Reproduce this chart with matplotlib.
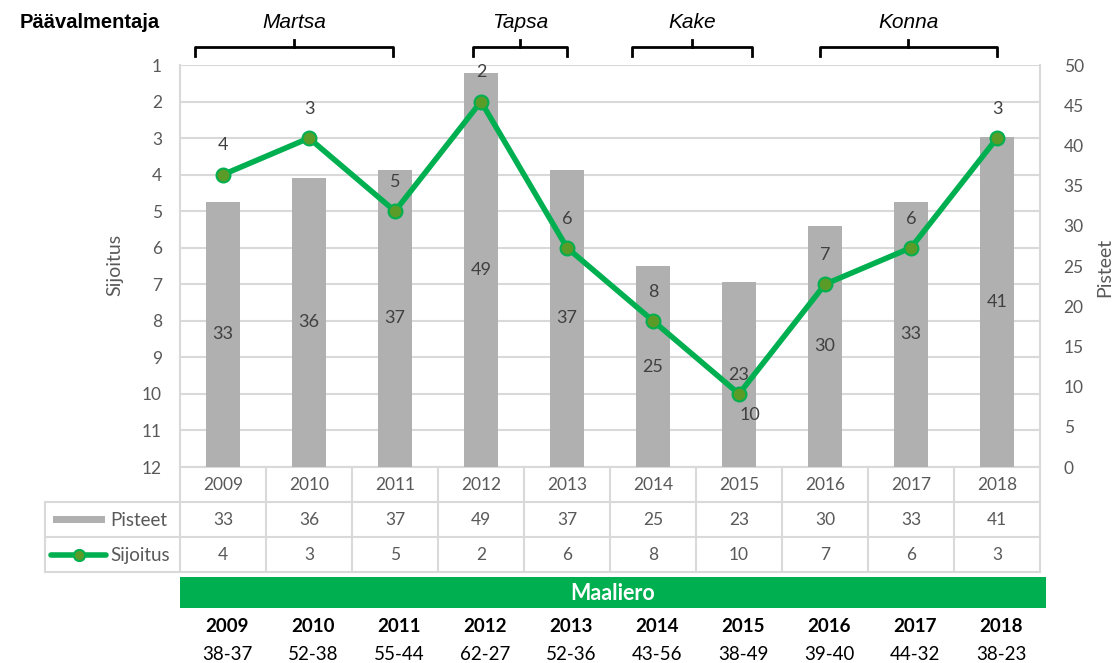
import matplotlib.pyplot as plt
from matplotlib.patches import Rectangle
from matplotlib.lines import Line2D
from matplotlib.transforms import blended_transform_factory

years = ["2009", "2010", "2011", "2012", "2013", "2014", "2015", "2016", "2017", "2018"]
pisteet = [33, 36, 37, 49, 37, 25, 23, 30, 33, 41]
sijoitus = [4, 3, 5, 2, 6, 8, 10, 7, 6, 3]
maaliero = ["38-37", "52-38", "55-44", "62-27", "52-36", "43-56", "38-49", "39-40", "44-32", "38-23"]
coaches = ["Martsa", "Tapsa", "Kake", "Konna"]
# bracket spans in category units (approx. from picture)
coach_spans = [(-0.33, 1.98), (2.91, 4.0), (4.76, 6.15), (6.94, 9.0)]

W, H = 1112, 663
GREEN = "#00B050"
MARK = "#5B9B28"
BAR = "#B0B0B0"
GRID = "#D9D9D9"
TXT = "#595959"
FONT = "Lato"

def fy(y):
    return 1 - y / H

fig = plt.figure(figsize=(W / 100, H / 100), dpi=100)
ax = fig.add_axes([180 / W, fy(467), 860 / W, (467 - 65) / H])
x = list(range(len(years)))

# rank axis (left) with grid
ax.set_xlim(-0.5, 9.5)
ax.set_ylim(12, 1)
ax.set_yticks(range(1, 13))
ax.set_xticks([])
ax.yaxis.grid(True, color=GRID, lw=1.5)
ax.set_axisbelow(True)
ax.tick_params(axis="y", length=0, pad=13, labelcolor=TXT, labelsize=12.5)
for lab in ax.get_yticklabels():
    lab.set_family(FONT)
ax.spines["top"].set_visible(False)
for s in ["left", "right", "bottom"]:
    ax.spines[s].set_color(GRID)
    ax.spines[s].set_linewidth(1.5)

# points axis (right) with bars
axb = ax.twinx()
axb.set_ylim(0, 50)
axb.set_yticks(range(0, 51, 5))
axb.tick_params(axis="y", length=0, pad=17, labelcolor=TXT, labelsize=12.5)
for lab in axb.get_yticklabels():
    lab.set_family(FONT)
for s in axb.spines.values():
    s.set_visible(False)
axb.bar(x, pisteet, width=0.4, color=BAR)
for xi, v in zip(x, pisteet):
    axb.text(xi, v / 2, str(v), ha="center", va="center", fontsize=13,
             color="#404040", family=FONT)

# line on top
axl = ax.twinx()
axl.set_ylim(12, 1)
axl.axis("off")
axl.plot(x, sijoitus, color=GREEN, lw=4, marker="o", ms=10,
         mfc=MARK, mec=GREEN, mew=1.5, zorder=3)
for xi, r in zip(x, sijoitus):
    if r == 10:
        off = (8, -15)
    else:
        off = (0, 21)
    axl.annotate(str(r), (xi, r), xytext=off, textcoords="offset points",
                 ha="center", va="center", fontsize=13, color="#404040", family=FONT)

fig.text(115 / W, fy(265), "Sijoitus", rotation=90, ha="center", va="center",
         fontsize=14, color=TXT, family=FONT)
fig.text(1105 / W, fy(267), "Pisteet", rotation=90, ha="center", va="center",
         fontsize=14, color=TXT, family=FONT)

# data table below the plot
tr = blended_transform_factory(ax.transData, fig.transFigure)
left = -0.5 - 135 / 86
rows = [467, 502, 537, 572]
for y in rows[1:]:
    fig.add_artist(Line2D([left, 9.5], [fy(y), fy(y)], transform=tr, color=GRID, lw=1.5))
for i in range(len(years) + 1):
    fig.add_artist(Line2D([i - 0.5, i - 0.5], [fy(467), fy(572)], transform=tr, color=GRID, lw=1.5))
fig.add_artist(Line2D([left, left], [fy(502), fy(572)], transform=tr, color=GRID, lw=1.5))

for xi in x:
    fig.text(xi, fy(485), years[xi], transform=tr, ha="center", va="center",
             fontsize=12.5, color=TXT, family=FONT)
    fig.text(xi, fy(520), str(pisteet[xi]), transform=tr, ha="center", va="center",
             fontsize=12.5, color=TXT, family=FONT)
    fig.text(xi, fy(555), str(sijoitus[xi]), transform=tr, ha="center", va="center",
             fontsize=12.5, color=TXT, family=FONT)

fig.add_artist(Rectangle((53 / W, fy(523)), 52 / W, 7 / H, transform=fig.transFigure,
                         color=BAR, lw=0))
fig.text(110 / W, fy(520), "Pisteet", ha="left", va="center", fontsize=13.5,
         color=TXT, family=FONT)
fig.add_artist(Line2D([51 / W, 106 / W], [fy(555), fy(555)], transform=fig.transFigure,
                      color=GREEN, lw=4, solid_capstyle="round"))
fig.add_artist(Line2D([79 / W], [fy(555)], transform=fig.transFigure, marker="o", ms=8,
                      mfc=MARK, mec=GREEN, mew=1.5))
fig.text(110 / W, fy(555), "Sijoitus", ha="left", va="center", fontsize=13.5,
         color=TXT, family=FONT)

# goal difference banner
fig.add_artist(Rectangle((-0.5, fy(608)), 10.07, (608 - 577) / H, transform=tr,
                         color=GREEN, lw=0))
fig.text(4.53, fy(593), "Maaliero", transform=tr, ha="center", va="center",
         fontsize=15.5, color="white", weight="bold", family=FONT)
for xi in x:
    fig.text(xi + 0.05, fy(627), years[xi], transform=tr, ha="center", va="center",
             fontsize=13.5, color="black", weight="bold", family=FONT)
    fig.text(xi + 0.05, fy(654), maaliero[xi], transform=tr, ha="center", va="center",
             fontsize=13.5, color="black", family=FONT)

# coach brackets on top
fig.text(20 / W, fy(23), "Päävalmentaja", ha="left", va="center", fontsize=14.5,
         weight="bold", family="Liberation Sans")
for name, (a, b) in zip(coaches, coach_spans):
    m = (a + b) / 2
    fig.add_artist(Line2D([a, a, b, b], [fy(56), fy(47), fy(47), fy(56)], transform=tr,
                          color="black", lw=2, solid_joinstyle="round"))
    fig.add_artist(Line2D([m, m], [fy(47), fy(40)], transform=tr, color="black", lw=2))
    fig.text(m, fy(22), name, transform=tr, ha="center", va="center", fontsize=15,
             style="italic", family="Liberation Sans")

fig.savefig("out.png", dpi=100)
